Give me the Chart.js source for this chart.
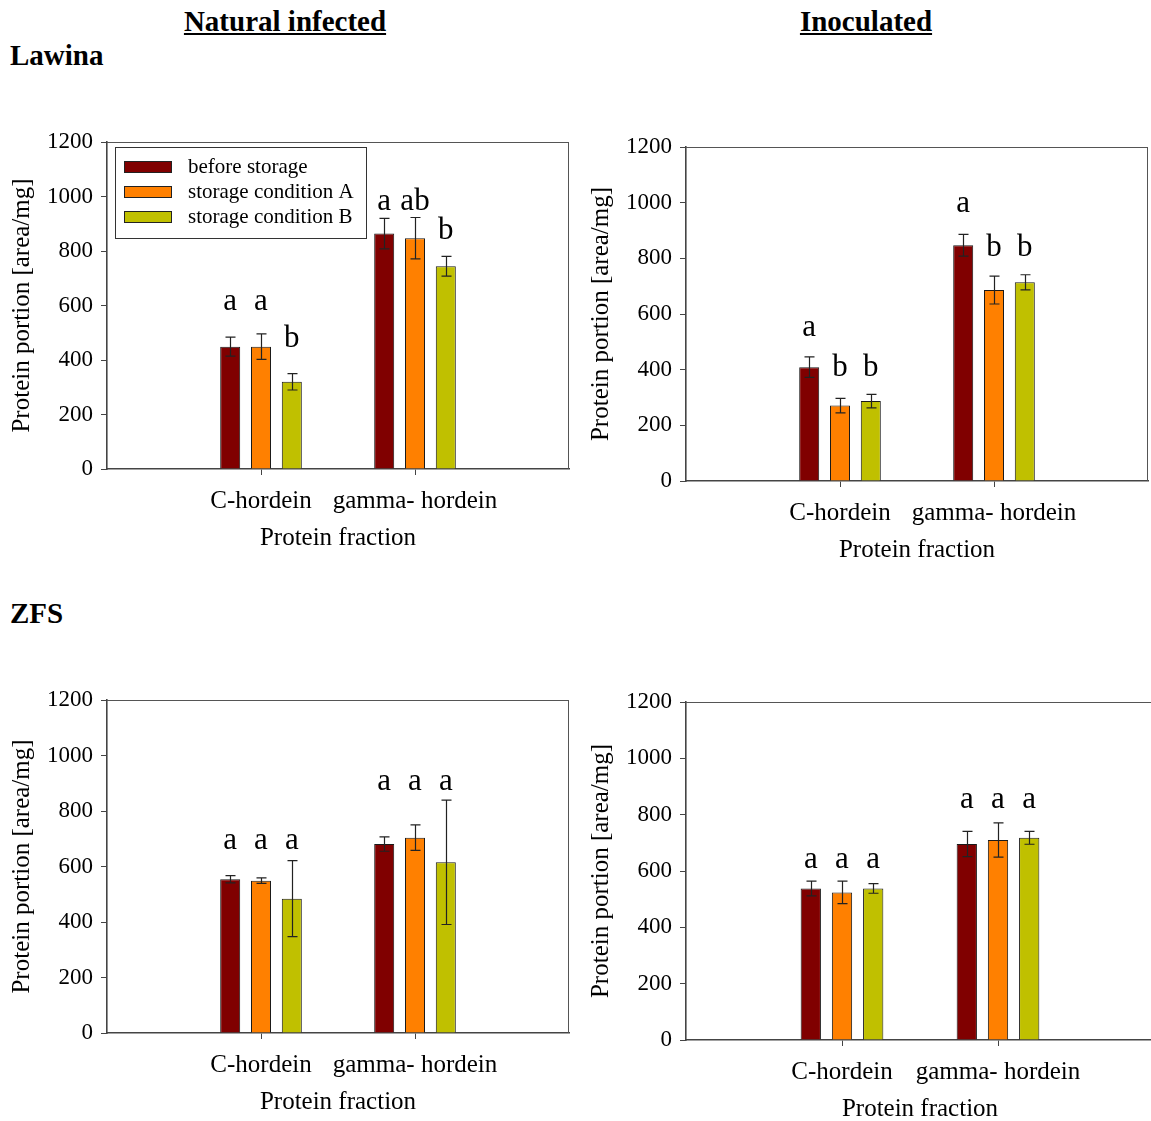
<!DOCTYPE html>
<html>
<head>
<meta charset="utf-8">
<script src="https://cdn.jsdelivr.net/npm/chart.js@4.4.1/dist/chart.umd.min.js"></script>
<style>
  html, body { margin: 0; padding: 0; background: #fff; overflow: hidden; }
  #page { position: relative; width: 1151px; height: 1121px; overflow: hidden;
          font-family: 'Liberation Serif', 'Times New Roman', serif; }
  canvas { position: absolute; }
  .head { position: absolute; font-weight: bold; font-size: 29px; color: #000;
          line-height: 1; white-space: nowrap; }
  .col { text-decoration: underline; transform: translateX(-50%); }
</style>
</head>
<body>
<div id="page">
  <div class="head col" style="left:285px;top:7px">Natural infected</div>
  <div class="head col" style="left:866px;top:7px">Inoculated</div>
  <div class="head" style="left:10px;top:41px">Lawina</div>
  <div class="head" style="left:10px;top:599px">ZFS</div>
  <canvas id="lawinaNat"></canvas>
  <canvas id="lawinaIno"></canvas>
  <canvas id="zfsNat"></canvas>
  <canvas id="zfsIno"></canvas>
</div>
<script>
// categories and series
const categories = ['C-hordein', 'gamma- hordein'];
const seriesNames = ['before storage', 'storage condition A', 'storage condition B'];
const seriesColors = ['#800000', '#ff8000', '#c0c000'];
const yTicks = [0, 200, 400, 600, 800, 1000, 1200];

// each row = one series, values for [C-hordein, gamma- hordein]
// Lawina - natural infected
const lawinaNatMeans   = [[449, 864], [449, 847], [320, 744]];
const lawinaNatErrors  = [[35, 56], [47, 76], [30, 36]];
const lawinaNatLetters = [['a', 'a'], ['a', 'ab'], ['b', 'b']];
const lawinaNatLetterY = [[584, 951], [584, 951], [447, 843]];

// Lawina - inoculated
const lawinaInoMeans   = [[409, 847], [271, 686], [287, 714]];
const lawinaInoErrors  = [[37, 39], [26, 50], [24, 27]];
const lawinaInoLetters = [['a', 'a'], ['b', 'b'], ['b', 'b']];
const lawinaInoLetterY = [[522, 967], [379, 809], [379, 809]];

// ZFS - natural infected
const zfsNatMeans   = [[554, 681], [549, 704], [484, 615]];
const zfsNatErrors  = [[13, 26], [10, 46], [137, 224]];
const zfsNatLetters = [['a', 'a'], ['a', 'a'], ['a', 'a']];
const zfsNatLetterY = [[662, 876], [662, 876], [662, 876]];

// ZFS - inoculated
const zfsInoMeans   = [[538, 696], [524, 710], [538, 718]];
const zfsInoErrors  = [[26, 45], [40, 61], [17, 23]];
const zfsInoLetters = [['a', 'a'], ['a', 'a'], ['a', 'a']];
const zfsInoLetterY = [[612, 822], [612, 822], [612, 822]];

const fontFam = "'Liberation Serif', 'Times New Roman', serif";

// draws the top/right frame, error bars, the letters and (optionally) the legend box
const extrasPlugin = {
  id: 'extras',
  afterDatasetsDraw(chart, args, opts) {
    const ctx = chart.ctx;
    const area = chart.chartArea;
    const yScale = chart.scales.y;

    ctx.save();
    // frame
    ctx.strokeStyle = '#555';
    ctx.lineWidth = 1;
    ctx.beginPath();
    ctx.moveTo(area.left, area.top + 0.5);
    ctx.lineTo(area.right, area.top + 0.5);
    ctx.moveTo(area.right - 0.5, area.top);
    ctx.lineTo(area.right - 0.5, area.bottom);
    ctx.stroke();

    // error bars
    ctx.strokeStyle = '#222';
    ctx.lineWidth = 1.2;
    chart.data.datasets.forEach((ds, s) => {
      const meta = chart.getDatasetMeta(s);
      opts.errors[s].forEach((err, c) => {
        const bar = meta.data[c + 1];
        const v = opts.means[s][c];
        const yTop = yScale.getPixelForValue(v + err);
        const yBot = yScale.getPixelForValue(v - err);
        const x = Math.round(bar.x) + 0.5;
        ctx.beginPath();
        ctx.moveTo(x, yTop); ctx.lineTo(x, yBot);
        ctx.moveTo(x - 5, yTop); ctx.lineTo(x + 5, yTop);
        ctx.moveTo(x - 5, yBot); ctx.lineTo(x + 5, yBot);
        ctx.stroke();
      });
    });

    // significance letters
    ctx.fillStyle = '#000';
    ctx.font = '31px ' + fontFam;
    ctx.textAlign = 'center';
    ctx.textBaseline = 'alphabetic';
    chart.data.datasets.forEach((ds, s) => {
      const meta = chart.getDatasetMeta(s);
      opts.letters[s].forEach((txt, c) => {
        const bar = meta.data[c + 1];
        ctx.fillText(txt, bar.x, yScale.getPixelForValue(opts.letterY[s][c]));
      });
    });

    // legend
    if (opts.legend) {
      const lx = area.left + 8, ly = area.top + 5;
      ctx.fillStyle = '#fff';
      ctx.fillRect(lx, ly, 251, 91);
      ctx.strokeStyle = '#333';
      ctx.lineWidth = 1;
      ctx.strokeRect(lx + 0.5, ly + 0.5, 251, 91);
      ctx.font = '21px ' + fontFam;
      ctx.textAlign = 'left';
      ctx.textBaseline = 'middle';
      seriesNames.forEach((name, s) => {
        const cy = ly + 19 + s * 25;
        ctx.fillStyle = seriesColors[s];
        ctx.fillRect(lx + 9, cy - 5, 47, 11);
        ctx.strokeStyle = '#222';
        ctx.strokeRect(lx + 9.5, cy - 4.5, 47, 11);
        ctx.fillStyle = '#000';
        ctx.fillText(name, lx + 73, cy + 1);
      });
    }
    ctx.restore();
  }
};

// no extra label overhang, chart area is set by the layout padding
function noPad(s) {
  s.paddingTop = 0; s.paddingBottom = 0; s.paddingLeft = 0; s.paddingRight = 0;
}

function makePanel(id, box, area, means, errors, letters, letterY, showLegend) {
  const canvas = document.getElementById(id);
  canvas.width = box.w;
  canvas.height = box.h;
  canvas.style.left = box.x + 'px';
  canvas.style.top = box.y + 'px';

  const yWidth = area.left - box.x;
  const xHeight = box.y + box.h - area.bottom;

  return new Chart(canvas, {
    type: 'bar',
    data: {
      labels: ['', ...categories, ''],
      datasets: seriesNames.map((name, s) => ({
        label: name,
        data: [null, ...means[s], null],
        backgroundColor: seriesColors[s],
        borderColor: '#1a1a1a',
        borderWidth: 1,
        categoryPercentage: 0.6,
        barPercentage: 0.65
      }))
    },
    options: {
      responsive: false,
      animation: false,
      layout: {
        padding: { left: 0, top: area.top - box.y, right: box.x + box.w - area.right, bottom: 0 }
      },
      plugins: {
        legend: { display: false },
        tooltip: { enabled: false },
        extras: { means: means, errors: errors, letters: letters, letterY: letterY, legend: showLegend }
      },
      scales: {
        x: {
          offset: false,
          grid: {
            offset: false,
            drawOnChartArea: false,
            tickLength: 6,
            tickWidth: 1,
            color: c => (c.index === 1 || c.index === 2) ? '#444' : 'rgba(0,0,0,0)'
          },
          border: { color: '#444', width: 1.6 },
          ticks: {
            autoSkip: false, maxRotation: 0, minRotation: 0,
            color: '#000', padding: 11,
            font: { family: fontFam, size: 25 }
          },
          title: {
            display: true, text: 'Protein fraction', color: '#000',
            font: { family: fontFam, size: 25 },
            padding: { top: 0, bottom: xHeight - 69 - 15 }
          },
          afterFit: s => { s.height = xHeight; noPad(s); }
        },
        y: {
          min: 0, max: 1200,
          afterBuildTicks: s => { s.ticks = yTicks.map(v => ({ value: v })); },
          grid: { drawOnChartArea: false, tickLength: 6, color: '#444' },
          border: { color: '#444', width: 1.6 },
          ticks: {
            color: '#000', padding: 8,
            font: { family: fontFam, size: 23 },
            callback: v => String(v)
          },
          title: {
            display: true, text: 'Protein portion [area/mg]', color: '#000',
            font: { family: fontFam, size: 25 },
            padding: { top: area.left - 85 - box.x - 15, bottom: 0 }
          },
          afterFit: s => { s.width = yWidth; noPad(s); }
        }
      }
    },
    plugins: [extrasPlugin]
  });
}

makePanel('lawinaNat', { x: 0, y: 130, w: 580, h: 440 },
  { left: 107, top: 142, right: 569, bottom: 469 },
  lawinaNatMeans, lawinaNatErrors, lawinaNatLetters, lawinaNatLetterY, true);

makePanel('lawinaIno', { x: 580, y: 130, w: 580, h: 440 },
  { left: 686, top: 147, right: 1148, bottom: 481 },
  lawinaInoMeans, lawinaInoErrors, lawinaInoLetters, lawinaInoLetterY, false);

makePanel('zfsNat', { x: 0, y: 680, w: 580, h: 441 },
  { left: 107, top: 700, right: 569, bottom: 1033 },
  zfsNatMeans, zfsNatErrors, zfsNatLetters, zfsNatLetterY, false);

makePanel('zfsIno', { x: 580, y: 680, w: 580, h: 441 },
  { left: 686, top: 702, right: 1154, bottom: 1040 },
  zfsInoMeans, zfsInoErrors, zfsInoLetters, zfsInoLetterY, false);
</script>
</body>
</html>
